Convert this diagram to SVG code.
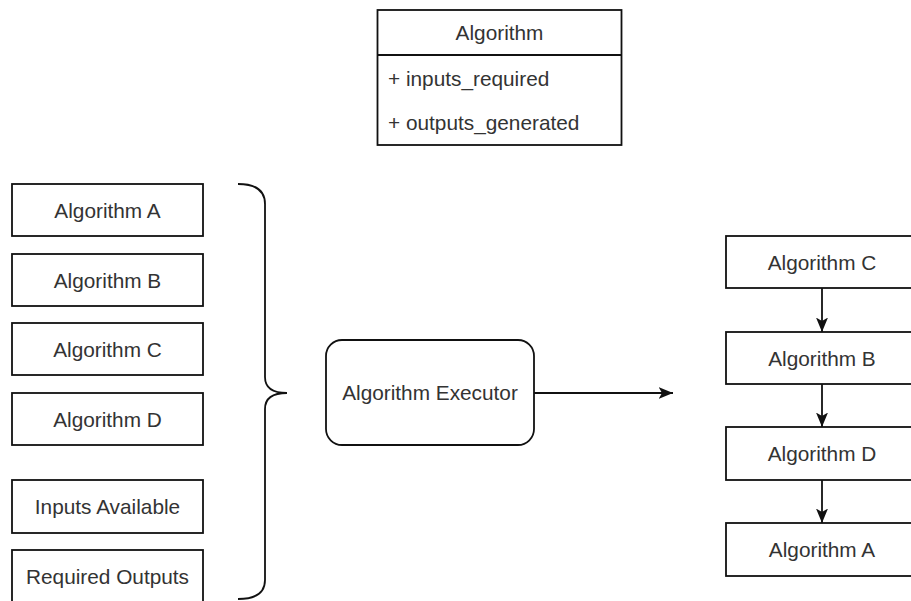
<svg xmlns="http://www.w3.org/2000/svg" width="911" height="601" viewBox="0 0 911 601">
<style>
.box{fill:#fff;stroke:#111;stroke-width:1.8}
.t{font-family:"Liberation Sans",Arial,sans-serif;font-size:20.8px;fill:#333;text-anchor:middle}
.tl{font-family:"Liberation Sans",Arial,sans-serif;font-size:20.8px;fill:#333}
.edge{fill:none;stroke:#111;stroke-width:1.8}
</style>
<defs>
<marker id="arr" markerWidth="15" markerHeight="13" viewBox="0 0 15 13" refX="14.5" refY="6.5" orient="auto" markerUnits="userSpaceOnUse">
<path d="M0,0.5 L14.5,6.5 L0,12.5 L3.5,6.5 Z" fill="#111"/>
</marker>
</defs>
<rect width="911" height="601" fill="#fff"/>
<g id="class-algorithm">
<rect class="box" x="377.5" y="10" width="244" height="135"/>
<line class="edge" x1="377.5" y1="55" x2="621.5" y2="55"/>
<text class="t" x="499.5" y="40">Algorithm</text>
<text class="tl" x="388" y="85.5">+ inputs_required</text>
<text class="tl" x="388" y="130">+ outputs_generated</text>
</g>
<g id="left-algorithm-a"><rect class="box" x="12" y="184" width="191" height="52"/><text class="t" x="107.5" y="217.5">Algorithm A</text></g>
<g id="left-algorithm-b"><rect class="box" x="12" y="254" width="191" height="52"/><text class="t" x="107.5" y="287.5">Algorithm B</text></g>
<g id="left-algorithm-c"><rect class="box" x="12" y="323" width="191" height="52"/><text class="t" x="107.5" y="356.5">Algorithm C</text></g>
<g id="left-algorithm-d"><rect class="box" x="12" y="393" width="191" height="52"/><text class="t" x="107.5" y="426.5">Algorithm D</text></g>
<g id="inputs-available"><rect class="box" x="12" y="480" width="191" height="53"/><text class="t" x="107.5" y="514">Inputs Available</text></g>
<g id="required-outputs"><rect class="box" x="12" y="550" width="191" height="53"/><text class="t" x="107.5" y="584">Required Outputs</text></g>
<g id="brace"><path class="edge" d="M238,184 Q265,184 265,204 L265,377 Q265,393 287,393 Q265,393 265,409 L265,580 Q265,599 238,599"/></g>
<g id="executor"><rect class="box" x="326" y="340" width="208" height="105" rx="16" ry="16"/><text class="t" x="430" y="400">Algorithm Executor</text></g>
<g id="right-algorithm-c"><rect class="box" x="726" y="236" width="192" height="52"/><text class="t" x="822" y="269.5">Algorithm C</text></g>
<g id="right-algorithm-b"><rect class="box" x="726" y="332" width="192" height="52"/><text class="t" x="822" y="365.5">Algorithm B</text></g>
<g id="right-algorithm-d"><rect class="box" x="726" y="427" width="192" height="53"/><text class="t" x="822" y="461">Algorithm D</text></g>
<g id="right-algorithm-a"><rect class="box" x="726" y="523" width="192" height="53"/><text class="t" x="822" y="557">Algorithm A</text></g>
<g id="connectors">
<line class="edge" x1="534" y1="393" x2="673" y2="393" marker-end="url(#arr)"/>
<line class="edge" x1="822" y1="288" x2="822" y2="332" marker-end="url(#arr)"/>
<line class="edge" x1="822" y1="384" x2="822" y2="427" marker-end="url(#arr)"/>
<line class="edge" x1="822" y1="480" x2="822" y2="523" marker-end="url(#arr)"/>
</g>
</svg>
